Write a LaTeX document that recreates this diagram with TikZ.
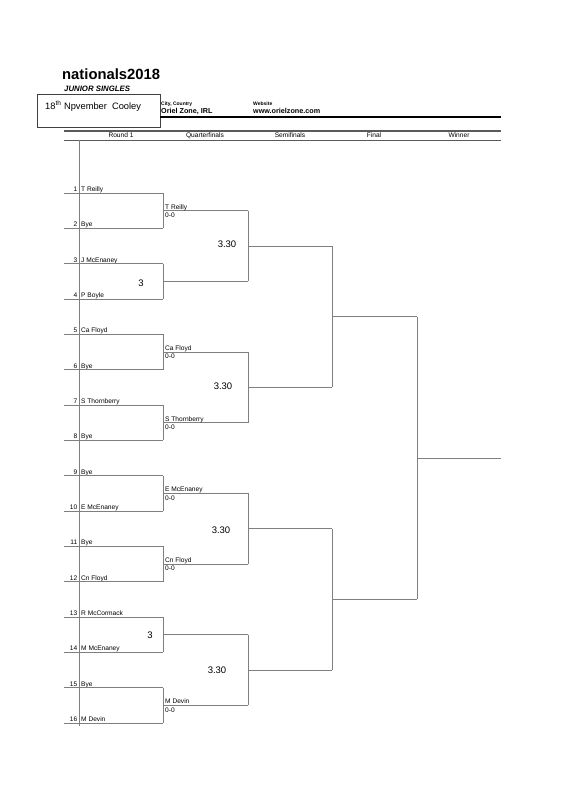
\documentclass[tikz,border=0pt]{standalone}
\usepackage{fontspec}
\setmainfont{Liberation Sans}
\usetikzlibrary{positioning,calc}
\definecolor{Rule}{HTML}{7F7F7F}
\definecolor{HeadRule}{HTML}{5A5A5A}
\tikzset{
 bline/.style={draw=Rule,line width=0.8pt},
 player/.style={anchor=base west,inner sep=0pt,font=\fontsize{6.6}{7}\selectfont},
 seed/.style={anchor=base east,inner sep=0pt,font=\fontsize{6.6}{7}\selectfont},
 result/.style={anchor=north west,inner sep=0pt,font=\fontsize{6.6}{7}\selectfont},
 slot/.style={inner sep=0pt,font=\fontsize{9.5}{10}\selectfont},
 colhead/.style={anchor=base,inner sep=0pt,font=\fontsize{6.6}{7}\selectfont},
 info/.style={anchor=base west,inner sep=0pt,font=\fontsize{5}{5}\bfseries\selectfont},
 infoval/.style={anchor=base west,inner sep=0pt,font=\fontsize{7.2}{8}\bfseries\selectfont}
}

\begin{document}
\begin{tikzpicture}[x=1pt,y=-1pt]
\useasboundingbox[fill=white] (0,0) rectangle (565,800);
% heading
\node[anchor=base west,inner sep=0pt,font=\fontsize{14.8}{16}\bfseries\selectfont] (title) at (62,80) {nationals2018};
\node[anchor=base west,inner sep=0pt,font=\fontsize{7.8}{8}\bfseries\itshape\selectfont] (event) at (64,92) {JUNIOR SINGLES};
\node[draw=black!75,line width=0.8pt,anchor=north west,minimum width=123pt,minimum height=33pt,inner sep=0pt] (datebox) at (37,94) {};
\node[anchor=base west,inner sep=0pt,font=\fontsize{9.3}{10}\selectfont] (date) at (45,109) {18\textsuperscript{th} Npvember\ \ Cooley};
\node[info] (citylab) at (161,105) {City, Country};
\node[infoval] (city) at (161,113) {Oriel Zone, IRL};
\node[info] (weblab) at (253,105) {Website};
\node[infoval] (web) at (253,113) {www.orielzone.com};
\coordinate (ul) at (160,117);
\coordinate (ur) at (501,117);
\draw[line width=1.3pt] (ul) -- (ur);
% column heads
\coordinate (h1l) at (64,131);
\coordinate (h1r) at (501,131);
\coordinate (h2l) at (64,140);
\coordinate (h2r) at (501,140);
\draw[draw=HeadRule,line width=1.8pt] (h1l) -- (h1r);
\draw[draw=HeadRule,line width=0.8pt] (h2l) -- (h2r);
\foreach \lab/\cx [count=\c] in {Round 1/121,Quarterfinals/205,Semifinals/290,Final/374,Winner/459}
  \node[colhead] (head\c) at (\cx,137.5) {\lab};
\coordinate (v0) at (79,140);
\coordinate (v1) at (79,726);
\draw[bline] (v0) -- (v1);
% round 1
\foreach \nm [count=\i] in {T Reilly,Bye,J McEnaney,P Boyle,Ca Floyd,Bye,S Thornberry,Bye,Bye,E McEnaney,Bye,Cn Floyd,R McCormack,M McEnaney,Bye,M Devin}{
  \pgfmathsetmacro{\yy}{193+35.33*(\i-1)}
  \coordinate (a\i) at (64,\yy);
  \coordinate (b\i) at (163,\yy);
  \node[seed] (s\i) at (77.5,\yy-1.6) {\i};
  \node[player] (n\i) at (81,\yy-1.6) {\nm};
  \draw[bline] (a\i) -- (b\i);
}
% quarterfinals
\foreach \k in {1,...,8}{
  \pgfmathtruncatemacro{\i}{2*\k-1}
  \pgfmathtruncatemacro{\j}{2*\k}
  \pgfmathsetmacro{\yy}{210.67+70.67*(\k-1)}
  \coordinate (qa\k) at (163,\yy);
  \coordinate (qb\k) at (248,\yy);
  \draw[bline] (b\i) -- (b\j);
  \draw[bline] (qa\k) -- (qb\k);
}
\foreach \k/\nm in {1/T Reilly,3/Ca Floyd,4/S Thornberry,5/E McEnaney,6/Cn Floyd,8/M Devin}{
  \node[player] (w\k) at ($(qa\k)+(2,-1.6)$) {\nm};
  \node[result] (r\k) at ($(qa\k)+(2,2)$) {0-0};
}
\node[slot] (g2) at (141,283) {3};
\node[slot] (g7) at (150,635) {3};
% semifinals
\foreach \m in {1,...,4}{
  \pgfmathtruncatemacro{\i}{2*\m-1}
  \pgfmathtruncatemacro{\j}{2*\m}
  \pgfmathsetmacro{\yy}{246+141.33*(\m-1)}
  \coordinate (sa\m) at (248,\yy);
  \coordinate (sb\m) at (332,\yy);
  \draw[bline] (qb\i) -- (qb\j);
  \draw[bline] (sa\m) -- (sb\m);
}
\node[slot] (t1) at (227,244) {3.30};
\node[slot] (t2) at (223,386) {3.30};
\node[slot] (t3) at (221,530) {3.30};
\node[slot] (t4) at (217,670) {3.30};
% final
\foreach \f in {1,2}{
  \pgfmathtruncatemacro{\i}{2*\f-1}
  \pgfmathtruncatemacro{\j}{2*\f}
  \pgfmathsetmacro{\yy}{316.67+282.67*(\f-1)}
  \coordinate (fa\f) at (332,\yy);
  \coordinate (fb\f) at (417,\yy);
  \draw[bline] (sb\i) -- (sb\j);
  \draw[bline] (fa\f) -- (fb\f);
}
% winner
\coordinate (wa) at (417,458);
\coordinate (wb) at (501,458);
\draw[bline] (fb1) -- (fb2);
\draw[bline] (wa) -- (wb);
\end{tikzpicture}
\end{document}
